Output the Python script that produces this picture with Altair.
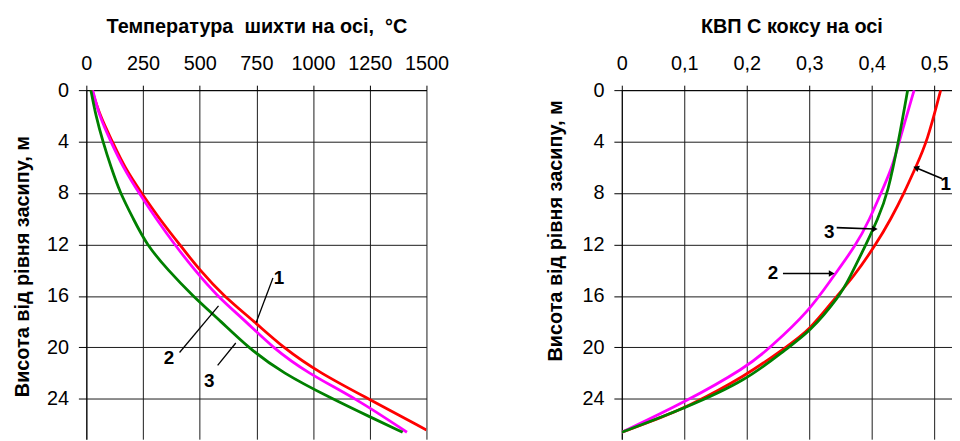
import altair as alt
import pandas as pd

FONT = "Liberation Sans"
COLORS = ["#ff0000", "#ff00ff", "#008000"]

# ---------- left panel: charge temperature on the axis (°C) ----------
t_h_1 = [0, 2, 4, 6, 8, 10, 12, 14, 16, 18, 20, 22, 24, 26.42]
t_v_1 = [25, 60, 115, 168, 243, 322, 411, 500, 605, 742, 866, 1030, 1245, 1500]
t_h_2 = [0, 2, 4, 6, 8, 10, 12, 14, 16, 18, 20, 22, 24, 26.6]
t_v_2 = [28, 57, 108, 162, 232, 308, 389, 478, 576, 705, 820, 975, 1192, 1414]
t_h_3 = [0, 2, 4, 6, 8, 10, 12, 14, 16, 18, 20, 22, 24, 25.4, 26.6]
t_v_3 = [20, 42, 73, 109, 149, 207, 265, 360, 469, 595, 712, 865, 1085, 1250, 1395]

# ---------- right panel: coke CRI on the axis ----------
k_h_1 = [0, 4, 6.04, 8, 10, 12, 14.65, 16, 18.71, 20, 22.18, 24.75, 25.5, 26.6]
k_v_1 = [0.5105, 0.489, 0.470, 0.452, 0.431, 0.407, 0.369, 0.344, 0.300, 0.262, 0.200, 0.100, 0.060, 0.0]
k_h_2 = [0, 4, 6, 8, 10, 12, 14.65, 17.17, 20, 21.54, 24.29, 26.6]
k_v_2 = [0.468, 0.444, 0.433, 0.415, 0.397, 0.376, 0.336, 0.300, 0.238, 0.200, 0.100, 0.0]
k_h_3 = [0, 4, 8, 10, 12, 14.65, 16, 18.84, 20, 22.57, 24.75, 26.6]
k_v_3 = [0.4576, 0.443, 0.426, 0.410, 0.391, 0.364, 0.349, 0.300, 0.266, 0.200, 0.100, 0.0]

series_names = ["1", "2", "3"]

# annotation labels (data units)
tl_label = ["1", "2", "3"]
tl_text_v = [850, 364, 542]
tl_text_h = [14.6, 20.8, 22.6]
tl_from_v = [823, 411, 579]
tl_from_h = [14.6, 20.4, 21.4]
tl_to_v = [749, 583, 659]
tl_to_h = [18.07, 16.78, 19.66]

kl_label = ["1", "2", "3"]
kl_text_v = [0.5185, 0.242, 0.332]
kl_text_h = [7.27, 14.2, 11.0]
kl_from_v = [0.513, 0.258, 0.344]
kl_from_h = [6.89, 14.26, 10.69]
kl_to_v = [0.471, 0.336, 0.405]
kl_to_h = [6.04, 14.26, 10.8]
kl_angle = [202, 0, 0]

temp_ticks = [0, 250, 500, 750, 1000, 1250, 1500]
kvp_ticks = [0, 0.1, 0.2, 0.3, 0.4, 0.5]
h_ticks = [0, 4, 8, 12, 16, 20, 24]

H_DOMAIN = [0, 27.14]


def long_df(hs, vs):
    rows = []
    for name, hh, vv in zip(series_names, hs, vs):
        for i, (a, b) in enumerate(zip(hh, vv)):
            rows.append({"series": name, "h": a, "val": b, "ord": i})
    return pd.DataFrame(rows)


df_t = long_df([t_h_1, t_h_2, t_h_3], [t_v_1, t_v_2, t_v_3])
df_k = long_df([k_h_1, k_h_2, k_h_3], [k_v_1, k_v_2, k_v_3])

df_t_rule = pd.DataFrame({"val": tl_from_v, "h": tl_from_h, "val2": tl_to_v, "h2": tl_to_h})
df_t_text = pd.DataFrame({"label": tl_label, "val": tl_text_v, "h": tl_text_h})
df_k_rule = pd.DataFrame({"val": kl_from_v, "h": kl_from_h, "val2": kl_to_v, "h2": kl_to_h})
df_k_head = pd.DataFrame({"val": kl_to_v, "h": kl_to_h, "ang": kl_angle})
df_k_text = pd.DataFrame({"label": kl_label, "val": kl_text_v, "h": kl_text_h})

color = alt.Color("series:N", scale=alt.Scale(domain=series_names, range=COLORS), legend=None)

y_title = "Висота від рівня засипу, м"


def y_enc(title_x, title_y):
    return alt.Y("h:Q",
                 scale=alt.Scale(domain=H_DOMAIN, reverse=True, nice=False, zero=False),
                 axis=alt.Axis(values=h_ticks, title=y_title, grid=True,
                               tickSize=8, labelPadding=10, labelFontSize=20,
                               labelOverlap=False, labelFlush=False,
                               titleFontSize=20, titleFontWeight="bold",
                               titleX=title_x, titleY=title_y, titleAngle=-90,
                               titleBaseline="alphabetic", titleAlign="center"))


def x_enc(domain, ticks, title, title_x, fmt=None, label_expr=None):
    ax = dict(orient="top", values=ticks, grid=True, title=title,
              tickSize=5, labelPadding=12, labelFontSize=20,
              labelOverlap=False, labelFlush=False,
              titleFontSize=20, titleFontWeight="bold",
              titleX=title_x, titleY=-58, titleBaseline="alphabetic",
              titleAlign="center")
    if fmt:
        ax["format"] = fmt
    if label_expr:
        ax["labelExpr"] = label_expr
    return alt.X("val:Q", scale=alt.Scale(domain=domain, nice=False, zero=False),
                 axis=alt.Axis(**ax))


# ---- left panel ----
xT = x_enc([0, 1500], temp_ticks, "Температура\u00a0 шихти на осі,\u00a0 °C", 171.5, fmt="d")
yT = y_enc(-58, 177.5)

left_lines = alt.Chart(df_t).mark_line(strokeWidth=2.8, interpolate="basis", clip=True).encode(
    x=xT, y=yT, color=color, order="ord:Q", detail="series:N")
left_rules = alt.Chart(df_t_rule).mark_rule(color="black", strokeWidth=1.3).encode(
    x=xT, y=yT, x2="val2:Q", y2="h2:Q")
left_text = alt.Chart(df_t_text).mark_text(font=FONT, fontSize=19, fontWeight="bold",
                                           align="center", baseline="middle").encode(
    x=xT, y=yT, text="label:N")
left = alt.layer(left_lines, left_rules, left_text).properties(width=343, height=352)

# ---- right panel ----
xK = x_enc([0, 0.5286], kvp_ticks, "КВП С коксу на осі", 171,
           label_expr="datum.value == 0 ? '0' : replace(format(datum.value, '.1f'), '.', ',')")
yK = y_enc(-61, 141.5)

right_lines = alt.Chart(df_k).mark_line(strokeWidth=2.8, interpolate="basis", clip=True).encode(
    x=xK, y=yK, color=color, order="ord:Q", detail="series:N")
right_rules = alt.Chart(df_k_rule).mark_rule(color="black", strokeWidth=1.6).encode(
    x=xK, y=yK, x2="val2:Q", y2="h2:Q")
right_heads = alt.Chart(df_k_head).mark_point(shape="triangle-right", filled=True, color="black",
                                              size=45, opacity=1).encode(
    x=xK, y=yK, angle=alt.Angle("ang:Q", scale=None))
right_text = alt.Chart(df_k_text).mark_text(font=FONT, fontSize=19, fontWeight="bold",
                                            align="center", baseline="middle").encode(
    x=xK, y=yK, text="label:N")
right = alt.layer(right_lines, right_rules, right_heads, right_text).properties(width=333, height=352)

chart = alt.hconcat(left, right, spacing=197, bounds="flush").properties(
    padding={"left": 5, "top": 7, "right": 0, "bottom": 0},
    background="white"
).configure_view(stroke=None).configure_axis(
    labelFont=FONT, titleFont=FONT, labelColor="black", titleColor="black",
    domainColor="black", tickColor="black", gridColor="#1a1a1a", gridOpacity=1,
    domainWidth=1, gridWidth=1, tickWidth=1
)

chart.save("out.html", embed_options={"renderer": "svg", "actions": False})
